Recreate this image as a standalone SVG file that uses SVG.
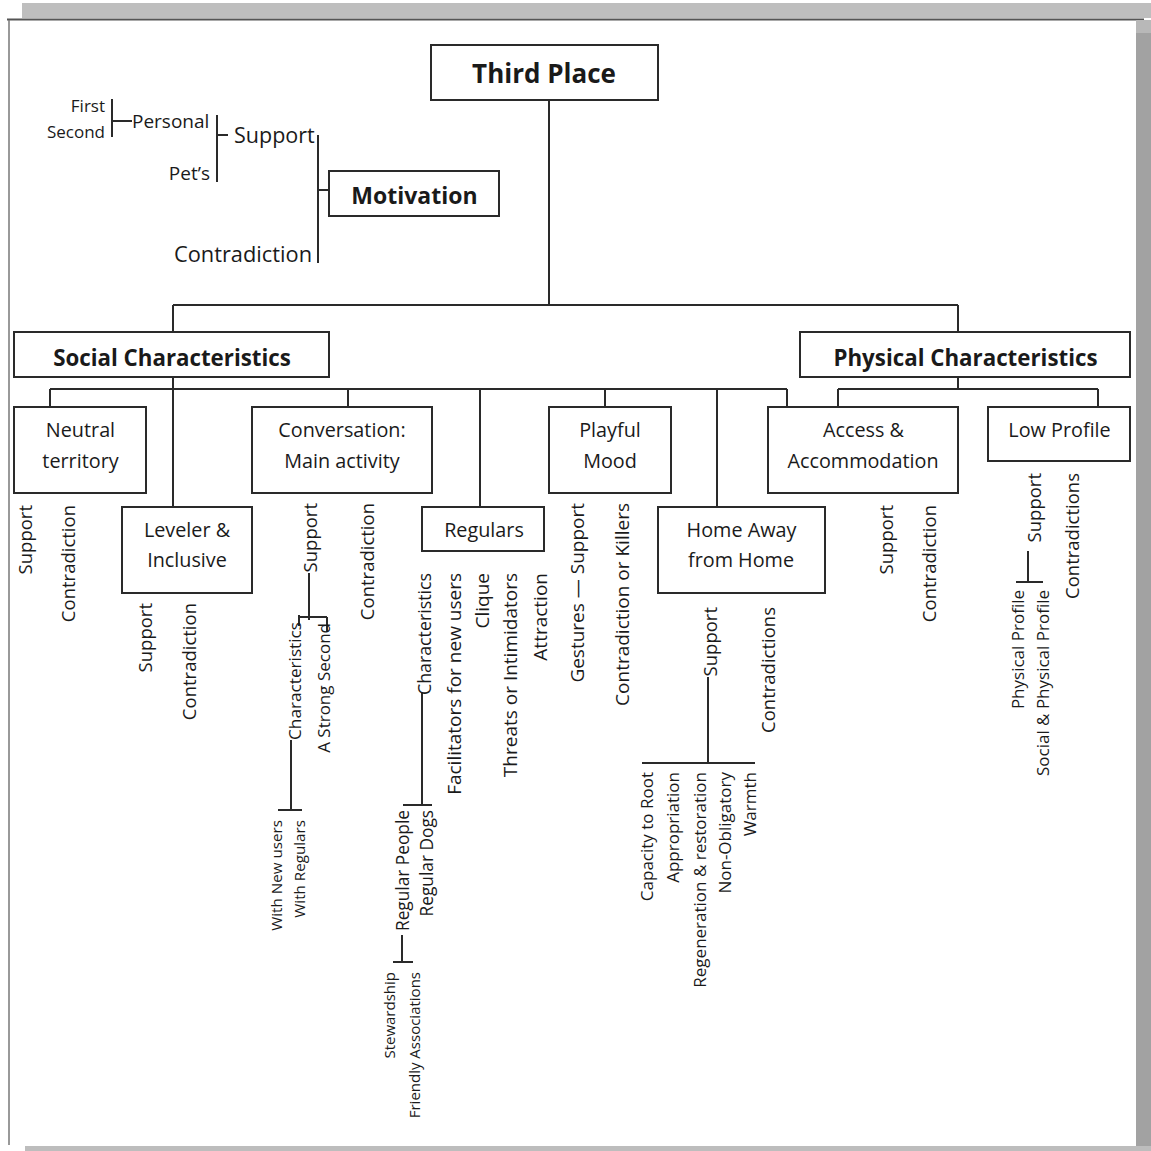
<svg xmlns="http://www.w3.org/2000/svg" width="1151" height="1151" viewBox="0 0 1151 1151">
<style>
.box{fill:#fff;stroke:#2a2a2a;stroke-width:2}
.ln{stroke:#2a2a2a;stroke-width:2;fill:none}
.t{font-family:"Open Sans","Noto Sans",sans-serif;fill:#1a1a1a}
.b{font-weight:bold}
.c{text-anchor:middle}
.e{text-anchor:end}
.bx{font-size:19.8px}
.v{font-size:18.5px;text-anchor:end}
</style>
<rect width="1151" height="1151" fill="#fff"/>
<g id="frame">
<rect x="22" y="3" width="1129" height="15" fill="#bebebe"/>
<line x1="7" y1="19.5" x2="1144" y2="19.5" stroke="#555" stroke-width="2"/>
<rect x="1136" y="20" width="15" height="1127" fill="#a2a2a2"/>
<rect x="1136" y="20" width="15" height="13" fill="#b8b8b8"/>
<line x1="9" y1="20" x2="9" y2="1145" stroke="#777" stroke-width="1.5"/>
<rect x="25" y="1146" width="1126" height="5" fill="#bdbdbd"/>
</g>
<g id="connectors" class="ln">
<path d="M549 100V305M173 305H958M173 305V332M958 305V332"/>
<path d="M173 377V507M50 389H787M50 389V407M348 389V407M480 389V507M605 389V407M717 389V507M787 389V407"/>
<path d="M958 377V389M838 389H1098M838 389V407M1098 389V407"/>
<path d="M318 135V263M318 190H329"/>
<path d="M217 115V182M217 135H228"/>
<path d="M112 99V137M112 121H132"/>
<path d="M309 573V620M299 617H327M299 615V626M327 617V632"/>
<path d="M291 740V810M278 810H302"/>
<path d="M422 693V805M403 805H432"/>
<path d="M402 935V962M393 962H413"/>
<path d="M708 677V763M642 763H755"/>
<path d="M1028 551V582M1016 582H1043"/>
</g>
<g id="third-place">
<rect class="box" x="431" y="45" width="227" height="55"/>
<text class="t b c" x="544" y="83" font-size="26">Third Place</text>
</g>
<g id="motivation">
<rect class="box" x="329" y="171" width="170" height="45"/>
<text class="t b c" x="414.5" y="204" font-size="23">Motivation</text>
</g>
<g id="motivation-labels" class="t">
<text class="e" x="105" y="112" font-size="17">First</text>
<text class="e" x="105" y="138" font-size="17">Second</text>
<text x="132" y="128" font-size="19">Personal</text>
<text x="234" y="143" font-size="21.5">Support</text>
<text class="e" x="210" y="180" font-size="19">Pet’s</text>
<text class="e" x="312" y="262" font-size="21.8">Contradiction</text>
</g>
<g id="social">
<rect class="box" x="14" y="332" width="315" height="45"/>
<text class="t b c" x="172" y="366" font-size="22.3">Social Characteristics</text>
</g>
<g id="physical">
<rect class="box" x="800" y="332" width="330" height="45"/>
<text class="t b c" x="965.5" y="366" font-size="22.3">Physical Characteristics</text>
</g>
<g id="neutral">
<rect class="box" x="14" y="407" width="132" height="86"/>
<text class="t c bx" x="80.5" y="437">Neutral</text>
<text class="t c bx" x="80.5" y="468">territory</text>
</g>
<g id="neutral-labels" class="t">
<text class="v" transform="translate(32 505) rotate(-90)">Support</text>
<text class="v" transform="translate(75 505) rotate(-90)">Contradiction</text>
</g>
<g id="leveler">
<rect class="box" x="122" y="507" width="130" height="86"/>
<text class="t c bx" x="187" y="537">Leveler &amp;</text>
<text class="t c bx" x="187" y="567">Inclusive</text>
</g>
<g id="leveler-labels" class="t">
<text class="v" transform="translate(152 603) rotate(-90)">Support</text>
<text class="v" transform="translate(196 603) rotate(-90)">Contradiction</text>
</g>
<g id="conversation">
<rect class="box" x="252" y="407" width="180" height="86"/>
<text class="t c bx" x="342" y="437">Conversation:</text>
<text class="t c bx" x="342" y="468">Main activity</text>
</g>
<g id="conversation-labels" class="t">
<text class="v" transform="translate(317 503) rotate(-90)">Support</text>
<text class="v" transform="translate(374 503) rotate(-90)">Contradiction</text>
<text class="e" font-size="17.2" transform="translate(301 622) rotate(-90)">Characteristics</text>
<text class="e" font-size="17" transform="translate(330 623) rotate(-90)">A Strong Second</text>
<text class="e" font-size="15.2" transform="translate(282 820) rotate(-90)">With New users</text>
<text class="e" font-size="15.2" transform="translate(305 820) rotate(-90)">With Regulars</text>
</g>
<g id="regulars">
<rect class="box" x="422" y="507" width="122" height="44"/>
<text class="t c bx" x="484" y="537">Regulars</text>
</g>
<g id="regulars-labels" class="t">
<text class="e" font-size="17.8" transform="translate(431 573) rotate(-90)">Characteristics</text>
<text class="e" font-size="19" transform="translate(461 573) rotate(-90)">Facilitators for new users</text>
<text class="e" font-size="19" transform="translate(489 573) rotate(-90)">Clique</text>
<text class="e" font-size="19" transform="translate(517 573) rotate(-90)">Threats or Intimidators</text>
<text class="e" font-size="19" transform="translate(547 573) rotate(-90)">Attraction</text>
<text class="e" font-size="17.3" transform="translate(409 810) rotate(-90)">Regular People</text>
<text class="e" font-size="17.3" transform="translate(433 810) rotate(-90)">Regular Dogs</text>
<text class="e" font-size="15" transform="translate(395 972) rotate(-90)">Stewardship</text>
<text class="e" font-size="15" transform="translate(420 972) rotate(-90)">Friendly Associations</text>
</g>
<g id="playful">
<rect class="box" x="549" y="407" width="122" height="86"/>
<text class="t c bx" x="610" y="437">Playful</text>
<text class="t c bx" x="610" y="468">Mood</text>
</g>
<g id="playful-labels" class="t">
<text class="e" font-size="19" transform="translate(584 503) rotate(-90)">Gestures — Support</text>
<text class="e" font-size="19" transform="translate(629 503) rotate(-90)">Contradiction or Killers</text>
</g>
<g id="home">
<rect class="box" x="658" y="507" width="167" height="86"/>
<text class="t c bx" x="741.5" y="537">Home Away</text>
<text class="t c bx" x="741" y="567">from Home</text>
</g>
<g id="home-labels" class="t">
<text class="v" transform="translate(717 607) rotate(-90)">Support</text>
<text class="v" transform="translate(775 607) rotate(-90)">Contradictions</text>
<text class="e" font-size="17" transform="translate(653 772) rotate(-90)">Capacity to Root</text>
<text class="e" font-size="17" transform="translate(679 772) rotate(-90)">Appropriation</text>
<text class="e" font-size="17" transform="translate(706 772) rotate(-90)">Regeneration &amp; restoration</text>
<text class="e" font-size="17" transform="translate(731 772) rotate(-90)">Non-Obligatory</text>
<text class="e" font-size="17" transform="translate(756 772) rotate(-90)">Warmth</text>
</g>
<g id="access">
<rect class="box" x="768" y="407" width="190" height="86"/>
<text class="t c bx" x="863.5" y="437">Access &amp;</text>
<text class="t c bx" x="863" y="468">Accommodation</text>
</g>
<g id="access-labels" class="t">
<text class="v" transform="translate(893 505) rotate(-90)">Support</text>
<text class="v" transform="translate(936 505) rotate(-90)">Contradiction</text>
</g>
<g id="low-profile">
<rect class="box" x="988" y="407" width="142" height="54"/>
<text class="t c bx" x="1059.5" y="437">Low Profile</text>
</g>
<g id="low-profile-labels" class="t">
<text class="v" transform="translate(1041 473) rotate(-90)">Support</text>
<text class="v" transform="translate(1079 473) rotate(-90)">Contradictions</text>
<text class="e" font-size="17" transform="translate(1024 590) rotate(-90)">Physical Profile</text>
<text class="e" font-size="17" transform="translate(1049 590) rotate(-90)">Social &amp; Physical Profile</text>
</g>
</svg>
